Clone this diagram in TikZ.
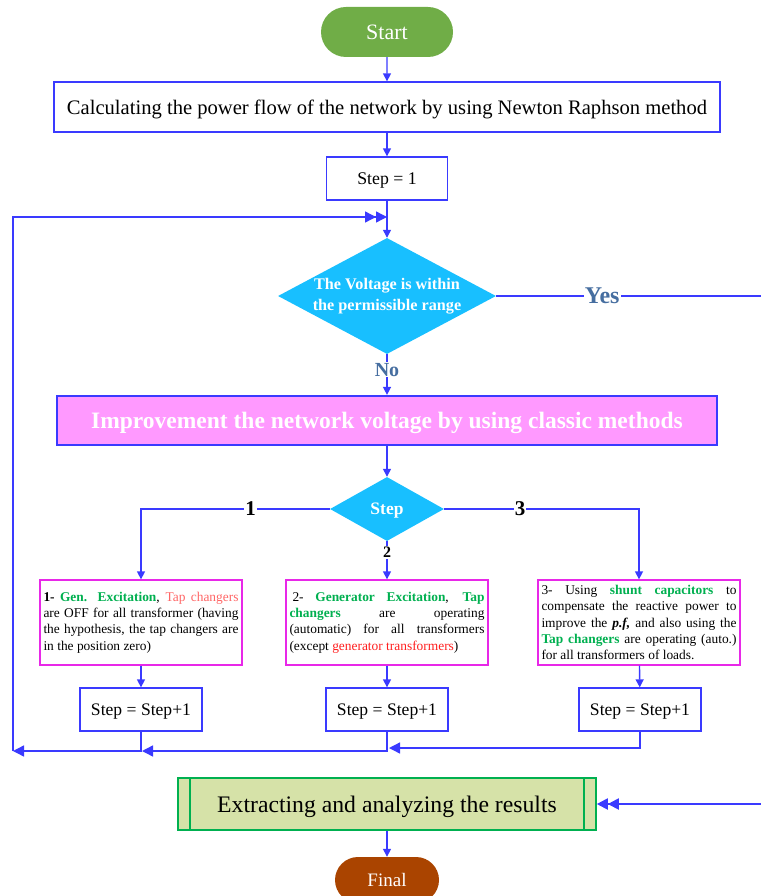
\documentclass[tikz,border=0pt]{standalone}
\usepackage{fontspec}
\setmainfont{Liberation Serif}
\usetikzlibrary{arrows.meta,shapes.geometric,shapes.misc}

\definecolor{lineblue}{RGB}{58,58,255}
\definecolor{startgreen}{RGB}{112,173,71}
\definecolor{decisioncyan}{RGB}{24,191,255}
\definecolor{pinkfill}{RGB}{255,153,255}
\definecolor{boxmag}{RGB}{232,40,232}
\definecolor{labblue}{RGB}{70,110,160}
\definecolor{kwgreen}{RGB}{0,176,80}
\definecolor{softred}{RGB}{255,102,102}
\definecolor{hardred}{RGB}{255,30,30}
\definecolor{resfill}{RGB}{214,226,168}
\definecolor{finalbrown}{RGB}{170,68,0}

\newcommand{\nobreaktext}{\hyphenpenalty=10000\relax\tolerance=10000\relax}

\tikzset{
  fsz/.style={font=\fontsize{#1}{#1}\selectfont},
  flow/.style={draw=lineblue, line width=1.4pt},
  arr/.style={flow, -{Triangle[length=8pt,width=8pt]}},
  arrbig/.style={flow, -{Triangle[length=11pt,width=11pt]}},
  arrdouble/.style={flow, -{Triangle[length=11pt,width=11pt] Triangle[length=11pt,width=11pt]}},
  terminal/.style={rounded rectangle, text=white, inner sep=0pt, text depth=0pt},
  plainbox/.style={draw=lineblue, line width=1.3pt, fill=white, inner sep=0pt, text=black, text depth=0pt},
  decision/.style={diamond, fill=decisioncyan, text=white, inner sep=0pt, align=center},
  detail/.style={draw=boxmag, line width=1.3pt, fill=white, text width=195pt, align=justify,
    inner xsep=3.5pt, inner ysep=0pt, minimum height=85pt, text=black,
    font=\fontsize{13.4}{16.4}\selectfont},
  yn/.style={fill=white, text=labblue, inner sep=1pt, font=\bfseries\fontsize{#1}{24}\selectfont},
  branch/.style={fill=white, text=black, inner sep=1pt, font=\bfseries\fontsize{21}{24}\selectfont},
}

\begin{document}
\begin{tikzpicture}[x=1pt,y=-1pt]
\useasboundingbox (0,0) rectangle (760,896);

% terminals and main process boxes
\node[terminal, fill=startgreen, minimum width=132pt, minimum height=50pt, fsz=22] (start) at (387,32) {Start};
\node[plainbox, minimum width=666pt, minimum height=50pt, fsz=20.6] (calc) at (387,107)
  {Calculating the power flow of the network by using Newton Raphson method};
\node[plainbox, minimum width=121pt, minimum height=43pt, fsz=17.8] (step1) at (387,178.5) {Step = 1};

\node[decision, aspect=1.88, minimum width=218pt, minimum height=116pt, font=\bfseries\fontsize{16.2}{21}\selectfont] (volt) at (387,296)
  {The Voltage is within\\the permissible range};

\node[draw=lineblue, line width=2.2pt, fill=pinkfill, text=white, minimum width=660pt, minimum height=49pt,
  inner sep=0pt, text depth=0pt, font=\bfseries\fontsize{23.5}{26}\selectfont] (improve) at (387,420.5)
  {Improvement the network voltage by using classic methods};

\node[decision, aspect=1.78, minimum width=114pt, minimum height=64pt, text depth=0pt, font=\bfseries\fontsize{17.5}{20}\selectfont] (choice) at (387,509) {Step};

% the three classic methods
\node[detail] (optA) at (141,622.5)
  {\nobreaktext\textbf{1-} \textcolor{kwgreen}{\textbf{Gen. Excitation}}, \textcolor{softred}{Tap changers}\linebreak
   are OFF for all transformer (having\linebreak
   the hypothesis, the tap changers are\linebreak
   in the position zero)};
\node[detail] (optB) at (387,622.5)
  {\nobreaktext\hspace*{3pt}2- \textcolor{kwgreen}{\textbf{Generator Excitation}}, \textcolor{kwgreen}{\textbf{Tap}}\linebreak
   \textcolor{kwgreen}{\textbf{changers}} are operating\linebreak
   (automatic) for all transformers\linebreak
   (except \textcolor{hardred}{generator transformers})\hfill\null};
\node[detail] (optC) at (639,622.5)
  {\nobreaktext 3- Using \textcolor{kwgreen}{\textbf{shunt capacitors}} to\linebreak
   compensate the reactive power to\linebreak
   improve the \textbf{\textit{p.f,}} and also using the\linebreak
   \textcolor{kwgreen}{\textbf{Tap changers}} are operating (auto.)\linebreak
   for all transformers of loads.};

\node[plainbox, minimum width=122pt, minimum height=43pt, fsz=17.6] (incA) at (141,709.5) {Step = Step+1};
\node[plainbox, minimum width=122pt, minimum height=43pt, fsz=17.6] (incB) at (387,709.5) {Step = Step+1};
\node[plainbox, minimum width=122pt, minimum height=43pt, fsz=17.6] (incC) at (640,709.5) {Step = Step+1};

% results (predefined process) and final terminal
\node[draw=kwgreen, line width=1.6pt, fill=resfill, minimum width=418pt, minimum height=52pt, inner sep=0pt,
  text depth=0pt, text=black, fsz=23.7] (results) at (387,804) {Extracting and analyzing the results};
\draw[kwgreen, line width=1.6pt] ([xshift=13pt]results.north west) -- ([xshift=13pt]results.south west)
  ([xshift=-13pt]results.north east) -- ([xshift=-13pt]results.south east);

\node[terminal, fill=finalbrown, minimum width=104pt, minimum height=46pt, fsz=19] (final) at (387,880) {Final};

% junction points of the loop back
\coordinate (joinB) at (389,748);
\coordinate (joinA) at (142,751);
\coordinate (joinL) at (13,751);
\coordinate (loopIn) at (387,217);
\coordinate (yesTurn) at (768,296);

% main flow
\draw[arr] (start) -- (calc);
\draw[arr] (calc) -- (step1);
\draw[arr] (step1) -- (volt);
\draw[arr] (volt.south) -- node[yn=20, pos=0.38] {No} (improve.north);
\draw[arr] (improve) -- (choice);

% branches to the methods
\draw[arr] (choice.west) -| node[branch, pos=0.21] {1} (optA.north);
\draw[arr] (choice.south) -- node[branch, pos=0.3, font=\bfseries\fontsize{16}{18}\selectfont] {2} (optB.north);
\draw[arr] (choice.east) -| node[branch, pos=0.195] {3} (optC.north);

\draw[arr] (optA) -- (incA);
\draw[arr] (optB) -- (incB);
\draw[arr] (optC) -- (incC);

% loop back to the voltage check
\draw[arrbig] (incC.south) |- (joinB);
\draw[arrbig] (incB.south) |- (joinA);
\draw[arrbig] (incA.south) |- (joinL);
\draw[arrdouble] (joinL) |- (loopIn);

% voltage accepted: go to the results
\draw[flow, line width=2pt, -{Triangle[length=11pt,width=11pt] Triangle[length=11pt,width=11pt]}]
  (volt.east) -- node[yn=24, pos=0.39] {Yes} (yesTurn) |- (results.east);

\draw[arr] (results) -- (final);
\end{tikzpicture}
\end{document}
